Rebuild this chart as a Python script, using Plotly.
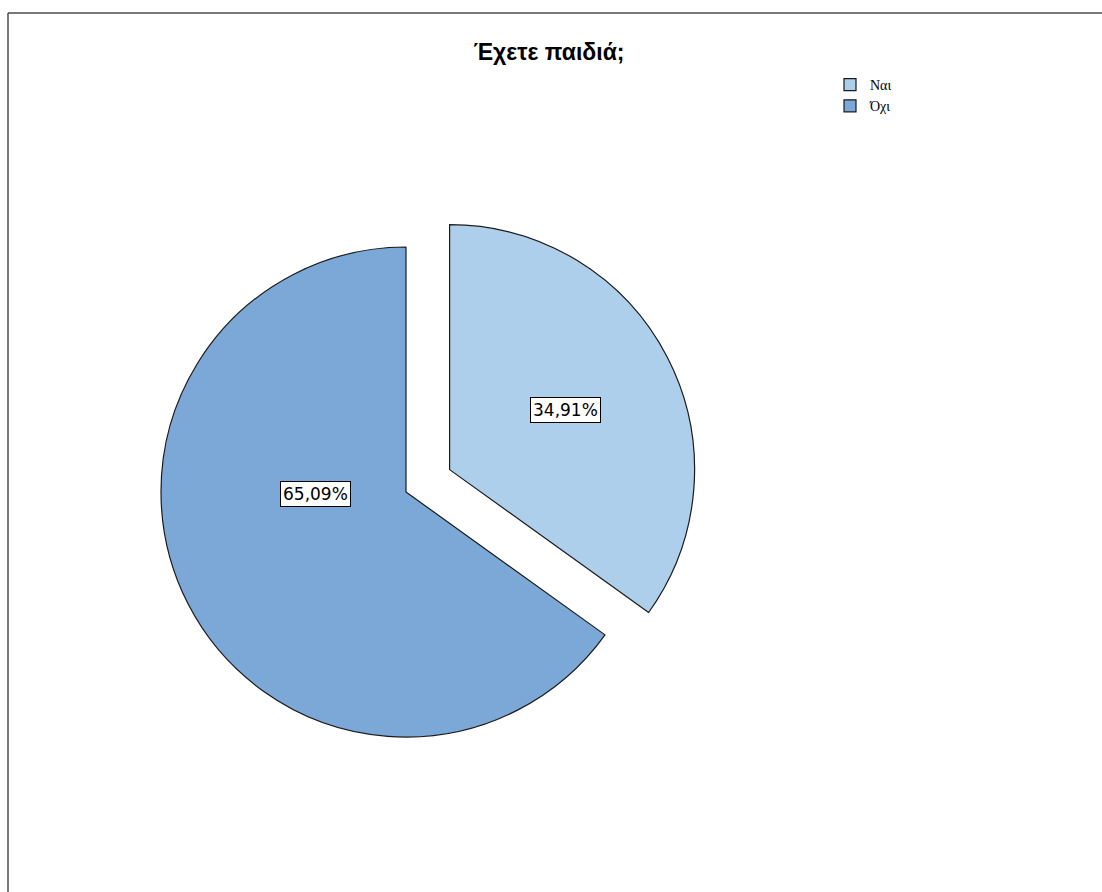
import plotly.graph_objects as go

# Survey answers: "Do you have children?"
labels = ["Ναι", "Όχι"]
percents = [34.91, 65.09]
colors = ["#AECFEC", "#7BA8D6"]
pulls = [0.2, 0.0]

W, H = 1102, 892

# Pie domain in pixels (square box so the radius is min(box)/(2+2*pull))
box_left, box_top, box_size = 112, 198, 588
dom_x = [box_left / W, (box_left + box_size) / W]
dom_y = [1 - (box_top + box_size) / H, 1 - box_top / H]

fig = go.Figure()
fig.add_trace(go.Pie(
    labels=labels,
    values=percents,
    sort=False,
    direction="clockwise",
    rotation=0,
    pull=pulls,
    marker=dict(colors=colors, line=dict(color="#1a1a1a", width=1.2)),
    textinfo="none",
    hoverinfo="label+percent",
    domain=dict(x=dom_x, y=dom_y),
))

# Boxed percentage labels
label_pos = [(565.5, 410), (315.5, 493.5)]
for pct, (px, py) in zip(percents, label_pos):
    fig.add_annotation(
        x=px / W, y=1 - py / H, xref="paper", yref="paper",
        text=f"{pct:.2f}%".replace(".", ","),
        showarrow=False,
        font=dict(family="DejaVu Sans", size=17, color="#000000"),
        bgcolor="#FFFFFF", bordercolor="#000000", borderwidth=1, borderpad=2,
        xanchor="center", yanchor="middle",
    )

# Frame lines along top and left edges
fig.add_shape(type="line", xref="paper", yref="paper",
              x0=8 / W, x1=1, y0=1 - 13 / H, y1=1 - 13 / H,
              line=dict(color="#4d4d4d", width=1.5))
fig.add_shape(type="line", xref="paper", yref="paper",
              x0=8 / W, x1=8 / W, y0=1 - 13 / H, y1=0,
              line=dict(color="#4d4d4d", width=1.5))

fig.update_layout(
    width=W, height=H,
    margin=dict(l=0, r=0, t=0, b=0),
    paper_bgcolor="#FFFFFF",
    plot_bgcolor="#FFFFFF",
    title=dict(
        text="<b>Έχετε παιδιά;</b>",
        x=549 / W, y=1 - 52 / H, xanchor="center", yanchor="middle",
        font=dict(family="Liberation Sans", size=23, color="#000000"),
    ),
    showlegend=True,
    legend=dict(
        x=830 / W, y=1 - 69 / H, xanchor="left", yanchor="top",
        font=dict(family="Liberation Serif", size=14, color="#000000"),
        bgcolor="rgba(0,0,0,0)",
        itemwidth=30,
        tracegroupgap=0,
    ),
)

fig.write_html("out.html")
